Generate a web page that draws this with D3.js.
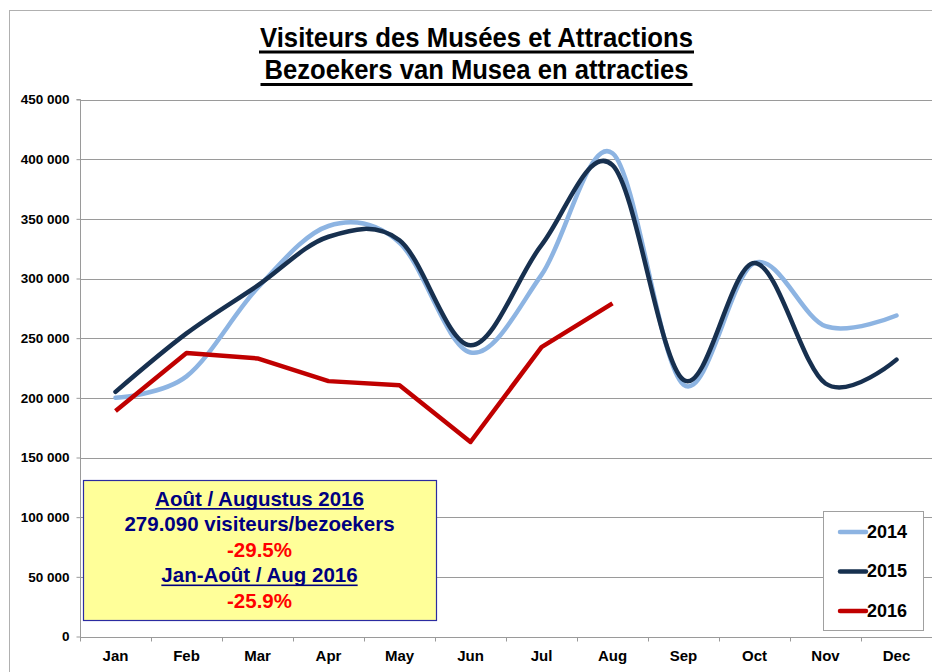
<!DOCTYPE html>
<html>
<head>
<meta charset="utf-8">
<script src="https://cdn.jsdelivr.net/npm/d3@7"></script>
<style>
  html, body { margin: 0; padding: 0; background: #fff; }
  svg { display: block; }
</style>
</head>
<body>
<svg id="chart" width="932" height="672"></svg>
<script>
const months = ["Jan","Feb","Mar","Apr","May","Jun","Jul","Aug","Sep","Oct","Nov","Dec"];
const series2014 = [200000, 218000, 292000, 344000, 330000, 238000, 303000, 405000, 211000, 313000, 260000, 269000];
const series2015 = [205000, 254000, 294000, 335000, 332000, 244000, 328000, 395000, 215000, 313000, 212000, 232000];
const series2016 = [189000, 237500, 233000, 214000, 210500, 163000, 242500, 279090];
const yTicks = [0, 50000, 100000, 150000, 200000, 250000, 300000, 350000, 400000, 450000];
const titleLines = ["Visiteurs des Musées et Attractions", "Bezoekers van Musea en attracties"];
const legendLabels = ["2014", "2015", "2016"];
const noteLines = [
  {text: "Août / Augustus 2016", color: "#000080", underline: true},
  {text: "279.090 visiteurs/bezoekers", color: "#000080", underline: false},
  {text: "-29.5%", color: "#ff0000", underline: false},
  {text: "Jan-Août / Aug 2016", color: "#000080", underline: true},
  {text: "-25.9%", color: "#ff0000", underline: false}
];

const colors = ["#8db4e2", "#17304f", "#c00000"];
const svg = d3.select("#chart");

// outer chart border
svg.append("rect").attr("x", 9.5).attr("y", 10.5).attr("width", 940).attr("height", 700)
  .attr("fill", "none").attr("stroke", "#b0b0b0").attr("stroke-width", 1);

const pLeft = 80, pRight = 932, pTop = 99.5, pBottom = 636.5;
const x = d3.scaleBand().domain(months).range([pLeft, pRight]);
const y = d3.scaleLinear().domain([0, 450000]).range([pBottom, pTop]);

// gridlines
svg.append("g").selectAll("line").data(yTicks.filter(d => d > 0)).join("line")
  .attr("x1", pLeft).attr("x2", pRight)
  .attr("y1", d => Math.round(y(d)) + 0.5).attr("y2", d => Math.round(y(d)) + 0.5)
  .attr("stroke", "#9a9a9a").attr("stroke-width", 1);

// y axis
const yAxis = d3.axisLeft(y).tickValues(yTicks)
  .tickFormat(d => d3.format(",")(d).replace(/,/g, " ")).tickSize(4).tickPadding(7);
const gy = svg.append("g").attr("transform", `translate(${pLeft + 0.5},0)`).call(yAxis);
gy.select(".domain").attr("stroke", "#9a9a9a").attr("d", `M-4,${pTop}H0V${pBottom + 4}`);
gy.selectAll(".tick line").attr("stroke", "#9a9a9a");
gy.selectAll(".tick text").attr("font-family", "'Liberation Sans', Arial, sans-serif")
  .attr("font-weight", "bold").attr("font-size", "13.5px").attr("fill", "#000");

// x axis
const gx = svg.append("g").attr("transform", `translate(0,${Math.round(pBottom) + 0.5})`);
gx.append("line").attr("x1", pLeft).attr("x2", pRight).attr("stroke", "#9a9a9a");
const boundaries = months.map(m => x(m));
gx.selectAll("line.tk").data(boundaries).join("line").attr("class", "tk")
  .attr("x1", d => Math.round(d) + 0.5).attr("x2", d => Math.round(d) + 0.5)
  .attr("y1", 0).attr("y2", 4).attr("stroke", "#9a9a9a");
gx.selectAll("text").data(months).join("text")
  .attr("x", d => x(d) + x.bandwidth() / 2).attr("y", 23)
  .attr("text-anchor", "middle")
  .attr("font-family", "'Liberation Sans Narrow', 'Arial Narrow', 'Liberation Sans', sans-serif")
  .attr("font-weight", "bold").attr("font-size", "15px").attr("fill", "#000")
  .text(d => d);

// lines
const cx = (d, i) => x(months[i]) + x.bandwidth() / 2;
const smooth = d3.line().x(cx).y(d => y(d)).curve(d3.curveCardinal.tension(0));
const straight = d3.line().x(cx).y(d => y(d));
svg.append("path").datum(series2014).attr("d", smooth).attr("fill", "none")
  .attr("stroke", colors[0]).attr("stroke-width", 4.5).attr("stroke-linejoin", "round").attr("stroke-linecap", "round");
svg.append("path").datum(series2015).attr("d", smooth).attr("fill", "none")
  .attr("stroke", colors[1]).attr("stroke-width", 4.5).attr("stroke-linejoin", "round").attr("stroke-linecap", "round");
svg.append("path").datum(series2016).attr("d", straight).attr("fill", "none")
  .attr("stroke", colors[2]).attr("stroke-width", 4.5).attr("stroke-linejoin", "round");

// title
titleLines.forEach((t, i) => {
  svg.append("text").attr("x", 476.5).attr("y", 47 + i * 31.5)
    .attr("text-anchor", "middle")
    .attr("font-family", "'Liberation Sans Narrow', 'Arial Narrow', 'Liberation Sans', sans-serif")
    .attr("font-weight", "bold").attr("font-size", "27px").attr("fill", "#000")
    .attr("textLength", i === 0 ? 433 : 424).attr("lengthAdjust", "spacingAndGlyphs")
    .text(t);
  const w = i === 0 ? 435 : 432;
  svg.append("rect").attr("x", 476.5 - w / 2).attr("y", 50.5 + i * 32.5).attr("width", w).attr("height", 3).attr("fill", "#000");
});

// annotation box
svg.append("rect").attr("x", 83.5).attr("y", 480.5).attr("width", 353).attr("height", 140)
  .attr("fill", "#ffff99").attr("stroke", "#2b2ba0").attr("stroke-width", 1.2);
noteLines.forEach((l, i) => {
  const t = svg.append("text").attr("x", 259.5).attr("y", 505.5 + i * 25.5)
    .attr("text-anchor", "middle")
    .attr("font-family", "'Liberation Sans', Arial, sans-serif")
    .attr("font-weight", "bold").attr("font-size", "20.5px").attr("fill", l.color)
    .text(l.text);
  if (l.underline) {
    const w = t.node().getComputedTextLength();
    svg.append("rect").attr("x", 259.5 - w / 2).attr("y", 505.5 + i * 25.5 + 2.5)
      .attr("width", w).attr("height", 1.6).attr("fill", l.color);
  }
});

// legend
svg.append("rect").attr("x", 823.5).attr("y", 511.5).attr("width", 100).attr("height", 119)
  .attr("fill", "#fff").attr("stroke", "#a0a0a0").attr("stroke-width", 1);
legendLabels.forEach((lab, i) => {
  const ly = 532 + i * 39.5;
  svg.append("line").attr("x1", 840).attr("x2", 866).attr("y1", ly).attr("y2", ly)
    .attr("stroke", colors[i]).attr("stroke-width", 4.5).attr("stroke-linecap", "round");
  svg.append("text").attr("x", 867).attr("y", ly + 5.5)
    .attr("font-family", "'Liberation Sans Narrow', 'Arial Narrow', 'Liberation Sans', sans-serif")
    .attr("font-weight", "bold").attr("font-size", "18px").attr("fill", "#000")
    .text(lab);
});
</script>
</body>
</html>
